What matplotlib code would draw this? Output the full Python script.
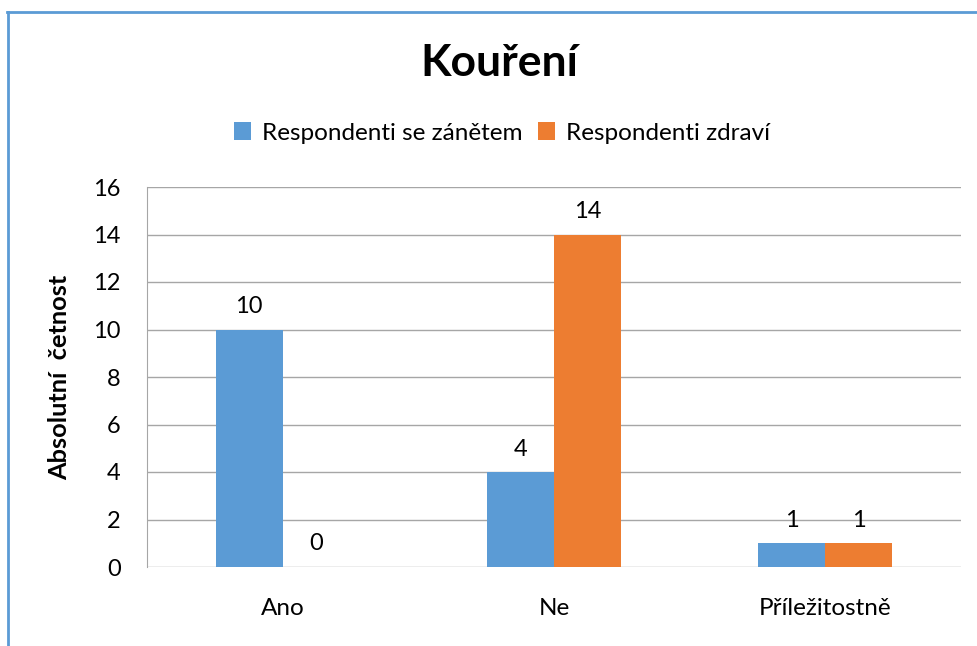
import numpy as np
import matplotlib.pyplot as plt
from matplotlib.lines import Line2D

categories = ['Ano', 'Ne', 'Příležitostně']
nemocni = [10, 4, 1]
zdravi = [0, 14, 1]
series_names = ['Respondenti se zánětem', 'Respondenti zdraví']
yticks = [0, 2, 4, 6, 8, 10, 12, 14, 16]

blue = '#5b9bd5'
orange = '#ed7d31'

plt.rcParams['font.family'] = ['Lato', 'DejaVu Sans']

fig = plt.figure(figsize=(9.77, 6.46), dpi=100)
ax = fig.add_axes([147 / 977, 1 - 567 / 646, (961 - 147) / 977, (567 - 187) / 646])

x = np.arange(len(categories))
w = 0.247
b1 = ax.bar(x - w / 2, nemocni, w, color=blue, label=series_names[0], zorder=3)
b2 = ax.bar(x + w / 2, zdravi, w, color=orange, label=series_names[1], zorder=3)

for bars in (b1, b2):
    for rect in bars:
        h = rect.get_height()
        ax.annotate(str(int(h)), (rect.get_x() + rect.get_width() / 2, h),
                    xytext=(0, 9), textcoords='offset points',
                    ha='center', va='bottom', fontsize=17)

ax.set_xlim(-0.5, len(categories) - 0.5)
ax.set_ylim(0, 16)
ax.set_yticks(yticks)
ax.set_xticks(x)
ax.set_xticklabels(categories, fontsize=17.5)
ax.tick_params(axis='y', labelsize=17, length=0, pad=19)
ax.tick_params(axis='x', length=0, pad=22)
ax.grid(axis='y', color='#a6a6a6', linewidth=1, zorder=0)
for s in ['top', 'right', 'bottom']:
    ax.spines[s].set_visible(False)
ax.spines['left'].set_color('#a6a6a6')
ax.set_ylabel('Absolutní  četnost', fontsize=18.3, fontweight='bold', va='center')
ax.yaxis.set_label_coords((60 - 147) / 814, 0.5)

fig.text(0.511, 1 - 63 / 646, 'Kouření', ha='center', va='center',
         fontsize=32, fontweight='bold')

fig.legend(loc='center', bbox_to_anchor=(0.514, 1 - 133 / 646), ncol=2,
           frameon=False, fontsize=17.5, handlelength=0.7, handleheight=0.7,
           handletextpad=0.45, columnspacing=0.65)

# modrý rámeček grafu (jen horní a levá hrana)
fig.add_artist(Line2D([7 / 977, 1], [1 - 12 / 646, 1 - 12 / 646], color=blue, linewidth=2))
fig.add_artist(Line2D([8 / 977, 8 / 977], [0, 1 - 12 / 646], color=blue, linewidth=2))

fig.savefig('out.png', dpi=100)
